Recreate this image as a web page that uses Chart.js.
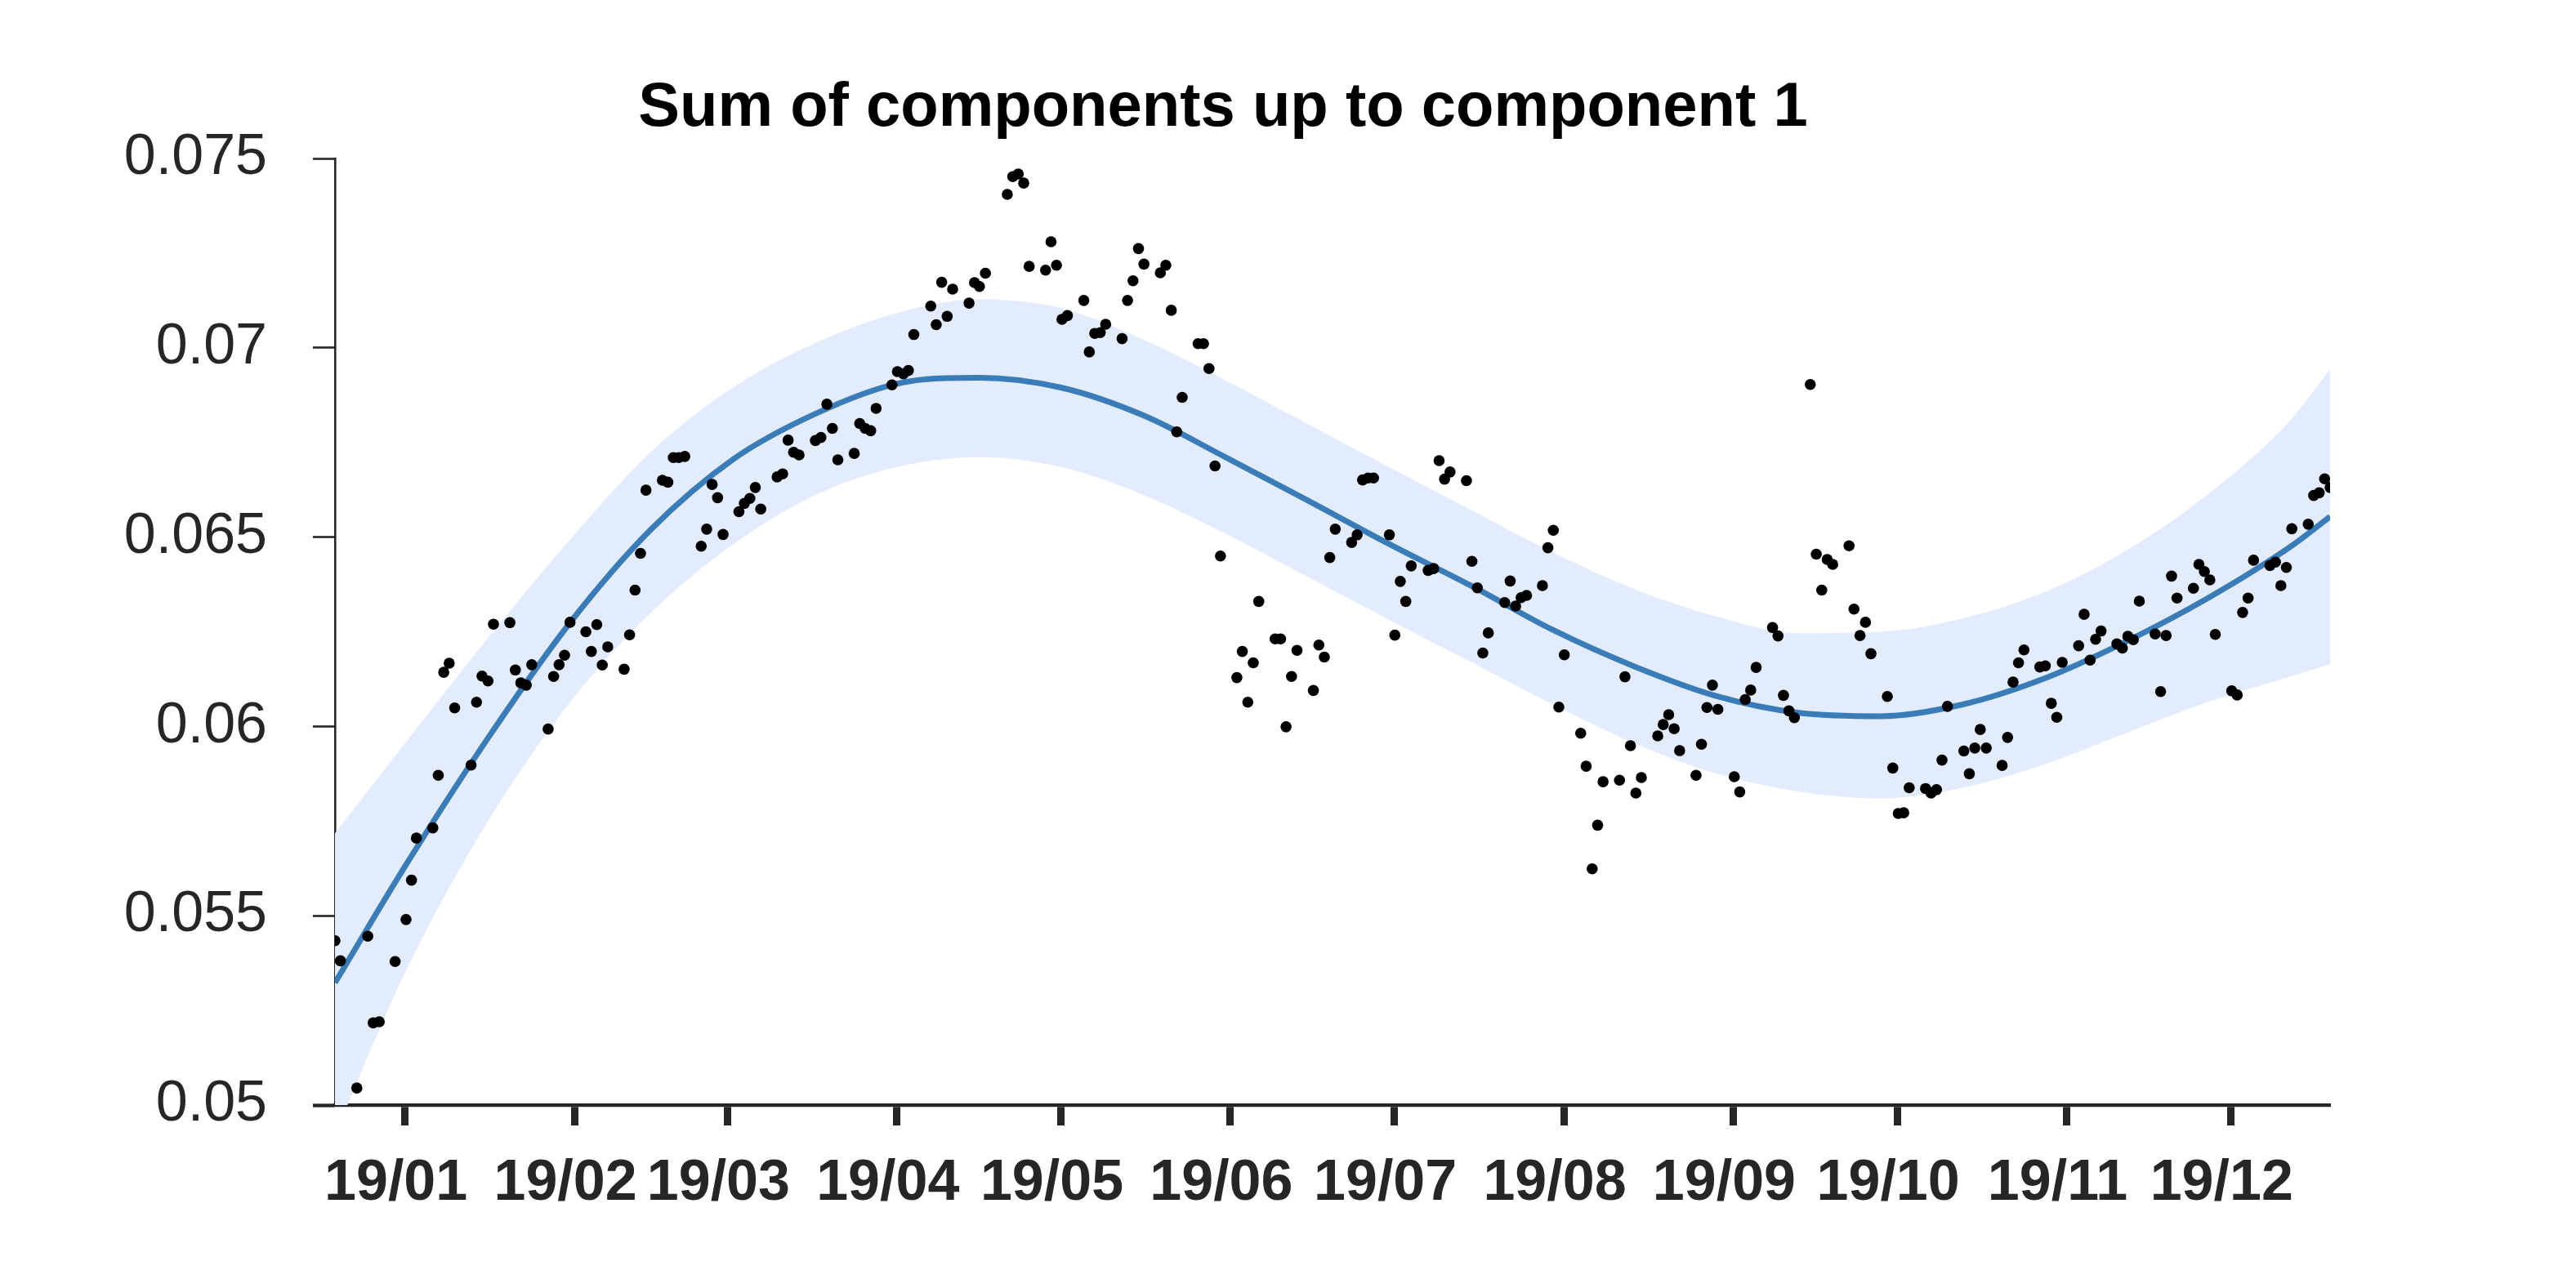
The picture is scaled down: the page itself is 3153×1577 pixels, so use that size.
<!DOCTYPE html>
<html>
<head>
<meta charset="utf-8">
<title>Sum of components up to component 1</title>
<script src="https://cdn.jsdelivr.net/npm/chart.js@4/dist/chart.umd.min.js"></script>
<style>
  html, body { margin: 0; padding: 0; background: #ffffff; }
  canvas { display: block; }
</style>
</head>
<body>
<canvas id="c" width="3153" height="1577"></canvas>
<script>
// ---------------- data (days since 2019-01-01) ----------------
const TITLE = 'Sum of components up to component 1';

const obsDays = [
  -12.8, -11.8, -8.8, -6.8, -5.8, -4.7, -1.8, 0.2, 1.2, 2.1,
  5.1, 6.1, 7.1, 8.1, 9.1, 12.1, 13.1, 14.1, 15.2, 16.2,
  19.2, 20.2, 21.2, 22.2, 23.2, 26.2, 27.2, 28.2, 29.2, 30.2,
  33.1, 34.1, 35.1, 36.1, 37.1, 40.1, 41.1, 42.1, 43.1, 44.1,
  47.1, 48.1, 49.1, 50.1, 51.2,
  54.2, 55.2, 56.2, 57.2, 58.2, 61.1, 62.1, 63.1, 64.1, 65.1,
  68.1, 69.1, 70.1, 71.1, 72.1, 75.1, 76.1, 77.2, 78.2, 79.2,
  82.2, 83.2, 84.2, 85.2, 86.2, 89.1, 90.1, 91.2, 92.1, 93.1,
  96.2, 97.2, 98.2, 99.2, 100.2, 103.2, 104.2, 105.1, 106.2,
  110.2, 111.2, 112.2, 113.2, 114.2, 117.2, 118.2,
  119.2, 120.2, 121.2, 124.2, 125.2, 126.2, 127.2, 128.2,
  131.2, 132.2, 133.2, 134.2, 135.2, 138.2, 139.2, 140.2, 141.2, 142.2,
  145.1, 146.1, 147.1, 148.2, 149.2, 152.2, 153.2, 154.2, 155.2, 156.2,
  159.2, 160.2, 161.2, 162.2, 163.2, 166.2, 167.2, 168.2, 169.2, 170.2,
  173.2, 174.2, 175.2, 176.2, 177.2, 180.1, 181.1, 182.1, 183.1, 184.1,
  187.2, 188.2, 189.2, 190.2, 191.2, 194.2, 195.2, 196.2, 197.2, 198.2,
  201.2, 202.2, 203.2, 204.2, 205.2, 208.1, 209.1, 210.1, 211.1, 212.1,
  215.1, 216.1, 217.2, 218.2, 219.2, 222.2, 223.2, 224.2, 225.2, 226.2,
  229.2, 230.2, 231.2, 232.2, 233.2, 236.2, 237.2, 238.2, 239.2, 240.2,
  243.2, 244.2, 245.2, 246.2, 247.2, 250.2, 251.2, 252.2, 253.2, 254.2,
  257.1,
  258.2, 259.2, 260.2, 261.2, 264.2, 265.1, 266.2, 267.2, 268.2,
  271.2, 272.2, 273.2, 274.2, 275.2, 278.2, 279.2, 280.2, 281.2, 282.2,
  285.2, 286.2, 287.2, 288.2, 289.3, 292.2, 293.2, 294.2, 295.2, 296.2,
  299.1, 300.1, 301.2, 302.2, 303.2, 306.2, 307.2, 308.3, 309.3, 310.3,
  313.2, 314.2, 315.2, 316.2, 317.3, 320.2, 321.2, 322.2, 323.2, 324.2,
  327.2, 328.2, 329.2, 330.2, 331.2, 334.2, 335.2, 336.2, 337.2, 338.2,
  341.2, 342.2, 343.2, 344.2, 345.2, 348.2, 349.2, 350.2, 351.2, 352.2
];

const obsValues = [
  0.05434, 0.05381, 0.05045, 0.05446, 0.05217, 0.05220, 0.05379, 0.05490, 0.05594, 0.05705,
  0.05732, 0.05871, 0.06143, 0.06167, 0.06049, 0.05898, 0.06064, 0.06133, 0.06120, 0.06270,
  0.06274, 0.06149, 0.06115, 0.06109, 0.06163, 0.05993, 0.06132, 0.06163, 0.06188, 0.06275,
  0.06250, 0.06198, 0.06269, 0.06162, 0.06210, 0.06151, 0.06242, 0.06360, 0.06457, 0.06624,
  0.06650, 0.06645, 0.06710, 0.06710, 0.06713,
  0.06476, 0.06521, 0.06639, 0.06604, 0.06507, 0.06567, 0.06589, 0.06602, 0.06631, 0.06574,
  0.06659, 0.06667, 0.06756, 0.06724, 0.06717, 0.06755, 0.06763, 0.06851, 0.06787, 0.06704,
  0.06721, 0.06800, 0.06787, 0.06781, 0.06840, 0.06902, 0.06937, 0.06931, 0.06940, 0.07035,
  0.07110, 0.07061, 0.07173, 0.07083, 0.07155, 0.07118, 0.07172, 0.07162, 0.07197,
  0.07405, 0.07452, 0.07459, 0.07435, 0.07215, 0.07205, 0.07280,
  0.07218, 0.07075, 0.07085, 0.07125, 0.06989, 0.07038, 0.07040, 0.07062,
  0.07024, 0.07125, 0.07177, 0.07262, 0.07221, 0.07198, 0.07218, 0.07099, 0.06778, 0.06869,
  0.07011, 0.07011, 0.06945, 0.06688, 0.06450, 0.06129, 0.06198, 0.06064, 0.06168, 0.06330,
  0.06231, 0.06231, 0.05999, 0.06132, 0.06201, 0.06095, 0.06215, 0.06183, 0.06446, 0.06521,
  0.06486, 0.06506, 0.06651, 0.06656, 0.06656, 0.06506, 0.06241, 0.06383, 0.06330, 0.06424,
  0.06412, 0.06417, 0.06702, 0.06653, 0.06672, 0.06649, 0.06436, 0.06366, 0.06194, 0.06247,
  0.06327, 0.06384, 0.06318, 0.06340, 0.06346, 0.06372, 0.06472, 0.06518, 0.06051, 0.06189,
  0.05982, 0.05895, 0.05624, 0.05739, 0.05854, 0.05858, 0.06131, 0.05949, 0.05824, 0.05865,
  0.05975, 0.06005, 0.06031, 0.05994, 0.05936, 0.05871, 0.05953, 0.06050, 0.06109, 0.06045,
  0.05867, 0.05827, 0.06071, 0.06096, 0.06156, 0.06261, 0.06239, 0.06082, 0.06041, 0.06023,
  0.06903,
  0.06455, 0.06360, 0.06441, 0.06428, 0.06477, 0.06310, 0.06240, 0.06275, 0.06192,
  0.06079, 0.05890, 0.05770, 0.05772, 0.05838, 0.05836, 0.05824, 0.05833, 0.05911, 0.06053,
  0.05935, 0.05875, 0.05943, 0.05992, 0.05943, 0.05897, 0.05971, 0.06117, 0.06168, 0.06202,
  0.06157, 0.06160, 0.06061, 0.06024, 0.06169, 0.06213, 0.06296, 0.06175, 0.06230, 0.06252,
  0.06218, 0.06207, 0.06238, 0.06229, 0.06331, 0.06244, 0.06092, 0.06240, 0.06397, 0.06339,
  0.06365, 0.06428, 0.06409, 0.06387, 0.06243, 0.06094, 0.06083, 0.06301, 0.06339, 0.06439,
  0.06425, 0.06434, 0.06372, 0.06420, 0.06522, 0.06534, 0.06610, 0.06617, 0.06654, 0.06631
];

// fitted trend and its band, sampled along the year
const fitDays = [-12.8, 0, 15, 30, 45, 60, 75, 90, 105, 120, 135, 150, 165, 180, 195,
                 210, 225, 240, 255, 270, 285, 300, 315, 330, 345, 352.2];
const fitCenter = [0.05323, 0.05630, 0.05965, 0.06270, 0.06520, 0.06705, 0.06825, 0.06905, 0.06921,
                   0.06895, 0.06822, 0.06712, 0.06598, 0.06482, 0.06372, 0.06255, 0.06158, 0.06080,
                   0.06036, 0.06027, 0.06058, 0.06127, 0.06225, 0.06340, 0.06475, 0.06554];
const fitUpper = [0.05718, 0.05955, 0.06230, 0.06490, 0.06725, 0.06895, 0.07012, 0.07092, 0.07128,
                  0.07105, 0.07022, 0.06915, 0.06800, 0.06685, 0.06572, 0.06460, 0.06362, 0.06290,
                  0.06246, 0.06250, 0.06285, 0.06355, 0.06465, 0.06615, 0.06810, 0.06944];
const fitLower = [0.04923, 0.05350, 0.05745, 0.06060, 0.06300, 0.06480, 0.06610, 0.06685, 0.06711,
                  0.06685, 0.06612, 0.06510, 0.06396, 0.06282, 0.06170, 0.06058, 0.05955, 0.05875,
                  0.05828, 0.05810, 0.05838, 0.05900, 0.05983, 0.06065, 0.06132, 0.06164];

// axis ticks
const monthTickDays = [0, 31, 59, 90, 120, 151, 181, 212, 243, 273, 304, 334];
const monthTickLabels = ['19/01', '19/02', '19/03', '19/04', '19/05', '19/06',
                         '19/07', '19/08', '19/09', '19/10', '19/11', '19/12'];
const yTickValues = [0.05, 0.055, 0.06, 0.065, 0.07, 0.075];
const yTickLabels = ['0.05', '0.055', '0.06', '0.065', '0.07', '0.075'];

// ---------------- chart ----------------
const AXIS_COLOR = '#262626';
const FONT = '"Liberation Sans", Arial, Helvetica, sans-serif';
const toXY = (xs, ys) => xs.map((x, i) => ({ x: x, y: ys[i] }));

const titlePlugin = {
  id: 'plotTitle',
  afterDraw(chart) {
    const ctx = chart.ctx;
    ctx.save();
    ctx.font = 'bold 76px ' + FONT;
    ctx.fillStyle = '#000000';
    ctx.textAlign = 'center';
    ctx.textBaseline = 'alphabetic';
    ctx.fillText(TITLE, 1497, 154);
    ctx.restore();
  }
};

new Chart(document.getElementById('c'), {
  type: 'scatter',
  data: {
    datasets: [
      {
        label: 'observed',
        data: toXY(obsDays, obsValues),
        showLine: false,
        pointRadius: 6.8,
        pointBackgroundColor: '#000000',
        pointBorderWidth: 0,
        order: 0
      },
      {
        type: 'line',
        label: 'trend',
        data: toXY(fitDays, fitCenter),
        showLine: true,
        borderColor: 'rgb(57,124,184)',
        borderWidth: 7,
        pointRadius: 0,
        cubicInterpolationMode: 'monotone',
        fill: false,
        order: 1
      },
      {
        type: 'line',
        label: 'upper',
        data: toXY(fitDays, fitUpper),
        showLine: true,
        borderWidth: 0,
        borderColor: 'rgba(0,0,0,0)',
        backgroundColor: 'rgb(227,236,253)',
        pointRadius: 0,
        cubicInterpolationMode: 'monotone',
        fill: '+1',
        order: 2
      },
      {
        type: 'line',
        label: 'lower',
        data: toXY(fitDays, fitLower),
        showLine: true,
        borderWidth: 0,
        borderColor: 'rgba(0,0,0,0)',
        pointRadius: 0,
        cubicInterpolationMode: 'monotone',
        fill: false,
        order: 3
      }
    ]
  },
  options: {
    responsive: false,
    animation: false,
    devicePixelRatio: 1,
    layout: { padding: { top: 194, right: 301, bottom: 0, left: 0 } },
    plugins: {
      legend: { display: false },
      tooltip: { enabled: false },
      title: { display: false }
    },
    scales: {
      x: {
        type: 'linear',
        position: 'bottom',
        min: obsDays[0],
        max: obsDays[obsDays.length - 1],
        afterBuildTicks: (scale) => { scale.ticks = monthTickDays.map(v => ({ value: v })); },
        afterFit: (scale) => { scale.height = 224; },
        grid: {
          display: true,
          drawOnChartArea: false,
          drawTicks: true,
          tickLength: 25,
          tickWidth: 9,
          tickColor: AXIS_COLOR
        },
        border: { display: true, color: AXIS_COLOR, width: 4.3 },
        ticks: {
          autoSkip: false,
          maxRotation: 0,
          minRotation: 0,
          padding: 30,
          labelOffset: -11,
          color: AXIS_COLOR,
          font: { family: FONT, size: 70, weight: 'bold' },
          callback: (value) => {
            const i = monthTickDays.indexOf(value);
            return i >= 0 ? monthTickLabels[i] : '';
          }
        }
      },
      y: {
        type: 'linear',
        position: 'left',
        min: yTickValues[0],
        max: yTickValues[yTickValues.length - 1],
        afterBuildTicks: (scale) => { scale.ticks = yTickValues.map(v => ({ value: v })); },
        afterFit: (scale) => { scale.width = 410; },
        grid: {
          display: true,
          drawOnChartArea: false,
          drawTicks: true,
          tickLength: 27,
          tickWidth: (ctx) => (ctx.index === 0 ? 4.3 : 2.6),
          tickColor: AXIS_COLOR
        },
        border: { display: true, color: AXIS_COLOR, width: 2.6 },
        ticks: {
          autoSkip: false,
          padding: 56,
          color: AXIS_COLOR,
          font: { family: FONT, size: 70, weight: 'normal' },
          callback: (value) => {
            const i = yTickValues.findIndex(v => Math.abs(v - value) < 1e-9);
            return i >= 0 ? yTickLabels[i] : '';
          }
        }
      }
    }
  },
  plugins: [titlePlugin]
});
</script>
</body>
</html>
